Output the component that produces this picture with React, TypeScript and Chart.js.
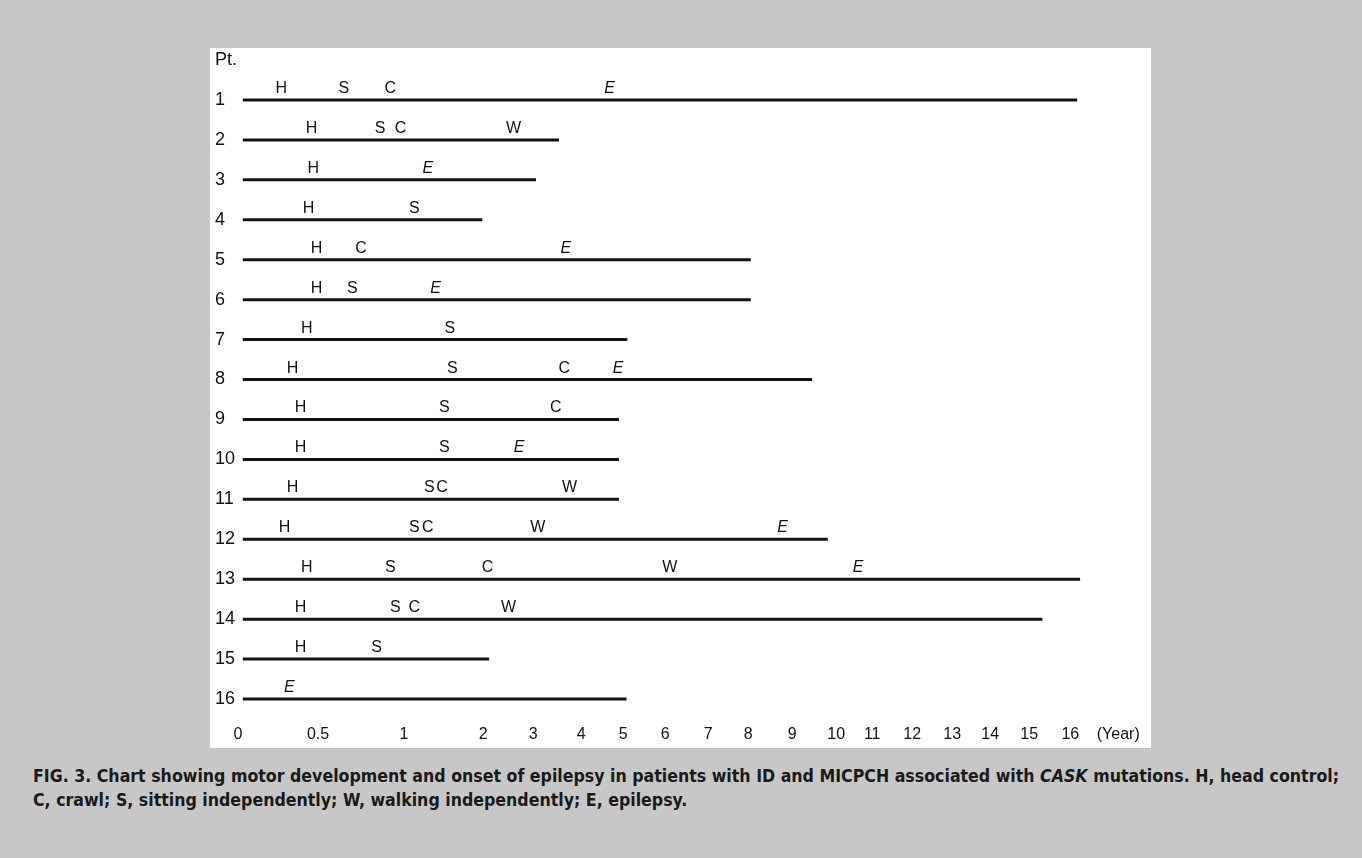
import React, { useEffect, useRef } from "react";
import { Chart, registerables } from "chart.js";

Chart.register(...registerables);

// ---------- data (years) ----------
const PATIENTS = ["1", "2", "3", "4", "5", "6", "7", "8", "9", "10", "11", "12", "13", "14", "15", "16"];
const TICK_YEARS = [0, 0.5, 1, 2, 3, 4, 5, 6, 7, 8, 9, 10, 11, 12, 13, 14, 15, 16];
const TICK_LABELS = ["0", "0.5", "1", "2", "3", "4", "5", "6", "7", "8", "9", "10", "11", "12", "13", "14", "15", "16"];
const UNIT_LABEL = "(Year)";

const FOLLOW_UP_START = 0.03;
const FOLLOW_UP_END = [16.17, 3.54, 3.06, 1.99, 8.06, 8.06, 5.1, 9.45, 4.9, 4.9, 4.9, 9.81, 16.24, 15.32, 2.12, 5.08];
const HEAD_CONTROL = [0.27, 0.46, 0.47, 0.44, 0.49, 0.49, 0.43, 0.34, 0.39, 0.39, 0.34, 0.29, 0.43, 0.39, 0.39, null];
const SITTING = [0.65, 0.86, null, 1.13, null, 0.7, 1.58, 1.61, 1.51, 1.51, 1.32, 1.13, 0.92, 0.95, 0.84, null];
const CRAWL = [0.92, 0.98, null, null, 0.75, null, null, 3.65, 3.47, null, 1.48, 1.3, 2.09, 1.13, null, null];
const WALKING = [null, 2.61, null, null, null, null, null, null, null, null, 3.76, 3.1, 6.11, 2.51, null, null];
const EPILEPSY = [4.68, null, 1.3, null, 3.68, 1.4, null, 4.88, null, 2.72, null, 8.78, 10.61, null, null, 0.32];

// ---------- axis layout (relative width of each segment between ticks) ----------
const SEGMENT_SPAN = [80, 86, 79, 50, 48, 42, 42, 43, 40, 44, 44, 36, 40, 40, 38, 39, 41];
const UNIT_LABEL_AT = 17.17;
const AXIS_MAX_YEAR = 17.7;

const CUM: number[] = [0];
SEGMENT_SPAN.forEach((s, i) => CUM.push(CUM[i] + s));

function toU(year: number): number {
  const n = TICK_YEARS.length;
  if (year <= TICK_YEARS[0]) return 0;
  for (let i = 0; i < n - 1; i++) {
    const a = TICK_YEARS[i];
    const b = TICK_YEARS[i + 1];
    if (year <= b) return CUM[i] + ((year - a) / (b - a)) * SEGMENT_SPAN[i];
  }
  const last = SEGMENT_SPAN[SEGMENT_SPAN.length - 1] / (TICK_YEARS[n - 1] - TICK_YEARS[n - 2]);
  return CUM[n - 1] + (year - TICK_YEARS[n - 1]) * last;
}

const MILESTONES: { letter: string; values: (number | null)[]; italic: boolean }[] = [
  { letter: "H", values: HEAD_CONTROL, italic: false },
  { letter: "S", values: SITTING, italic: false },
  { letter: "C", values: CRAWL, italic: false },
  { letter: "W", values: WALKING, italic: false },
  { letter: "E", values: EPILEPSY, italic: true },
];

const FONT = '"Liberation Sans", Arial, Helvetica, sans-serif';
const INK = "#111111";

const milestonePlugin = {
  id: "milestoneLetters",
  afterDatasetsDraw(chart: any) {
    const { ctx } = chart;
    const x = chart.scales.x;
    const y = chart.scales.y;
    ctx.save();
    ctx.fillStyle = INK;
    ctx.textAlign = "center";
    ctx.textBaseline = "alphabetic";
    MILESTONES.forEach((m) => {
      ctx.font = `${m.italic ? "italic " : ""}16px ${FONT}`;
      m.values.forEach((v, i) => {
        if (v == null) return;
        const px = x.getPixelForValue(toU(v));
        const py = y.getPixelForValue(i + 1) - 7;
        ctx.fillText(m.letter, px, py);
      });
    });
    ctx.restore();
  },
};

function ChartPanel() {
  const ref = useRef<HTMLCanvasElement | null>(null);
  useEffect(() => {
    if (!ref.current) return;
    const datasets = PATIENTS.map((p, i) => ({
      label: "Pt. " + p,
      data: [
        { x: toU(FOLLOW_UP_START), y: i + 1 },
        { x: toU(FOLLOW_UP_END[i]), y: i + 1 },
      ],
      borderColor: INK,
      backgroundColor: INK,
      borderWidth: 3,
      pointRadius: 0,
      clip: false as any,
    }));
    const yLabels = ["Pt.", ...PATIENTS];
    const chart = new Chart(ref.current, {
      type: "line",
      data: { datasets },
      plugins: [milestonePlugin],
      options: {
        animation: false,
        responsive: false,
        devicePixelRatio: 1,
        events: [],
        layout: { padding: { left: 5, right: 11, top: 12, bottom: 0 } },
        plugins: {
          legend: { display: false },
          tooltip: { enabled: false },
        },
        scales: {
          x: {
            type: "linear",
            min: 0,
            max: toU(AXIS_MAX_YEAR),
            grid: { display: false, drawTicks: false },
            border: { display: false },
            afterBuildTicks: (axis: any) => {
              axis.ticks = [...TICK_YEARS.map((v) => ({ value: toU(v) })), { value: toU(UNIT_LABEL_AT) }];
            },
            afterFit: (axis: any) => {
              axis.height = 49;
            },
            ticks: {
              autoSkip: false,
              maxRotation: 0,
              padding: 4,
              color: INK,
              font: { family: FONT, size: 16, lineHeight: 4 },
              callback: (_v: any, idx: number) => (idx < TICK_LABELS.length ? TICK_LABELS[idx] : UNIT_LABEL),
            },
          },
          y: {
            type: "linear",
            reverse: true,
            min: 0,
            max: 16,
            grid: { display: false, drawTicks: false },
            border: { display: false },
            afterBuildTicks: (axis: any) => {
              axis.ticks = yLabels.map((_, i) => ({ value: i }));
            },
            afterFit: (axis: any) => {
              axis.width = 23;
            },
            ticks: {
              autoSkip: false,
              crossAlign: "far",
              padding: 0,
              color: INK,
              font: { family: FONT, size: 18 },
              callback: (_v: any, idx: number) => yLabels[idx],
            },
          },
        },
      },
    } as any);
    return () => chart.destroy();
  }, []);
  return (
    <canvas
      ref={ref}
      width={941}
      height={700}
      style={{ position: "absolute", left: 210, top: 48, width: 941, height: 700, background: "#ffffff" }}
    />
  );
}

export default function App() {
  const caption: React.CSSProperties = {
    position: "absolute",
    left: 33,
    whiteSpace: "nowrap",
    fontFamily: '"DejaVu Sans Condensed", "DejaVu Sans", sans-serif',
    fontWeight: "bold",
    fontSize: 17.6,
    color: "#1a1a1a",
    lineHeight: "24px",
  };
  return (
    <div
      style={{
        position: "absolute",
        left: 0,
        top: 0,
        width: 1362,
        height: 858,
        overflow: "hidden",
        background: "#c7c7c7",
      }}
    >
      <ChartPanel />
      <div style={{ ...caption, top: 764 }}>
        FIG. 3. Chart showing motor development and onset of epilepsy in patients with ID and MICPCH associated with{" "}
        <i>CASK</i> mutations. H, head control;
      </div>
      <div style={{ ...caption, top: 788 }}>
        C, crawl; S, sitting independently; W, walking independently; E, epilepsy.
      </div>
    </div>
  );
}
